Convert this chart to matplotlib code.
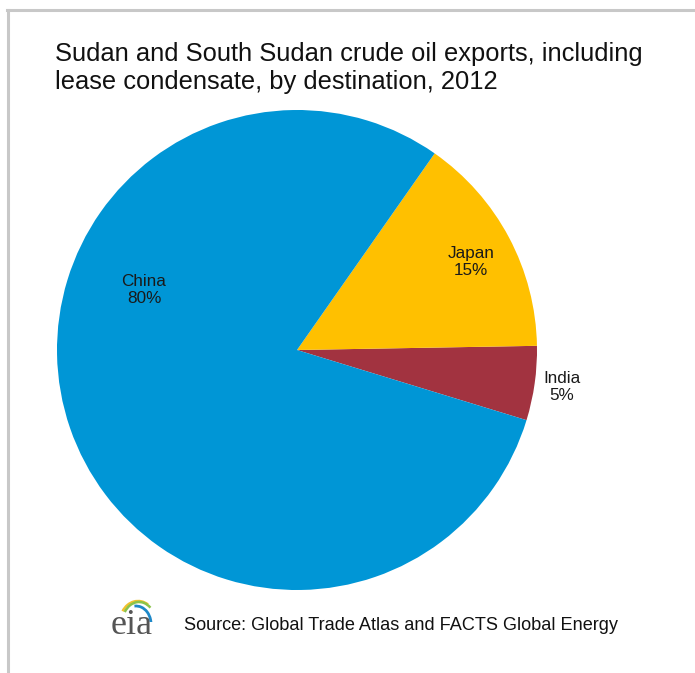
import matplotlib
matplotlib.use("Agg")
import matplotlib.pyplot as plt
from matplotlib.patches import Arc
from matplotlib.lines import Line2D

plt.rcParams['font.family'] = ['Liberation Sans', 'DejaVu Sans']

categories = ["India", "Japan", "China"]
values = [5, 15, 80]
colors = ["#A23340", "#FFC000", "#0096D6"]
title = "Sudan and South Sudan crude oil exports, including\nlease condensate, by destination, 2012"
source = "Source: Global Trade Atlas and FACTS Global Energy"

W, H = 695, 673
fig = plt.figure(figsize=(W / 100, H / 100), dpi=100)

# frame lines (top and left)
fig.add_artist(Line2D([7 / W, 1], [1 - 10 / H, 1 - 10 / H], color="#C8C8C8", lw=2.2))
fig.add_artist(Line2D([8 / W, 8 / W], [0, 1 - 10 / H], color="#C8C8C8", lw=2.2))

cx, cy, r = 297, 350, 240
ax = fig.add_axes([(cx - r) / W, (H - cy - r) / H, 2 * r / W, 2 * r / H])
wedges, _ = ax.pie(values, colors=colors, startangle=-17, counterclock=True,
                   radius=1.0, wedgeprops=dict(linewidth=0))
ax.set_xlim(-1, 1)
ax.set_ylim(-1, 1)
ax.set_aspect("equal")
ax.axis("off")

label_pos = {"India": (562, 387), "Japan": (471, 262), "China": (144, 290)}
for cat, v in zip(categories, values):
    px, py = label_pos[cat]
    fig.text(px / W, 1 - py / H, f"{cat}\n{v}%", ha="center", va="center",
             fontsize=12.3, color="#1a1a1a", linespacing=1.1)

fig.text(55 / W, 1 - 42 / H, title, ha="left", va="top", fontsize=18.4,
         color="#111111", linespacing=1.22)

fig.text(184 / W, 1 - 625 / H, source, ha="left", va="center", fontsize=13.1,
         color="#111111")

# eia logo
fig.text(132 / W, 1 - 626 / H, "eia", ha="center", va="center", fontsize=26,
         family="Liberation Serif", color="#555555")
lax = fig.add_axes([108 / W, 1 - 622 / H, 50 / W, 25 / H])
lax.set_xlim(0, 50)
lax.set_ylim(0, 25)
lax.axis("off")
lax.add_patch(Arc((30, 0), 36, 42, theta1=60, theta2=145, color="#F2C12E", lw=1.8))
lax.add_patch(Arc((31, -2), 34, 44, theta1=55, theta2=140, color="#8BC34A", lw=1.8))
lax.add_patch(Arc((28, -2), 30, 36, theta1=-15, theta2=95, color="#1E88C8", lw=2.0))

fig.savefig("out.png", dpi=100, facecolor="white")
